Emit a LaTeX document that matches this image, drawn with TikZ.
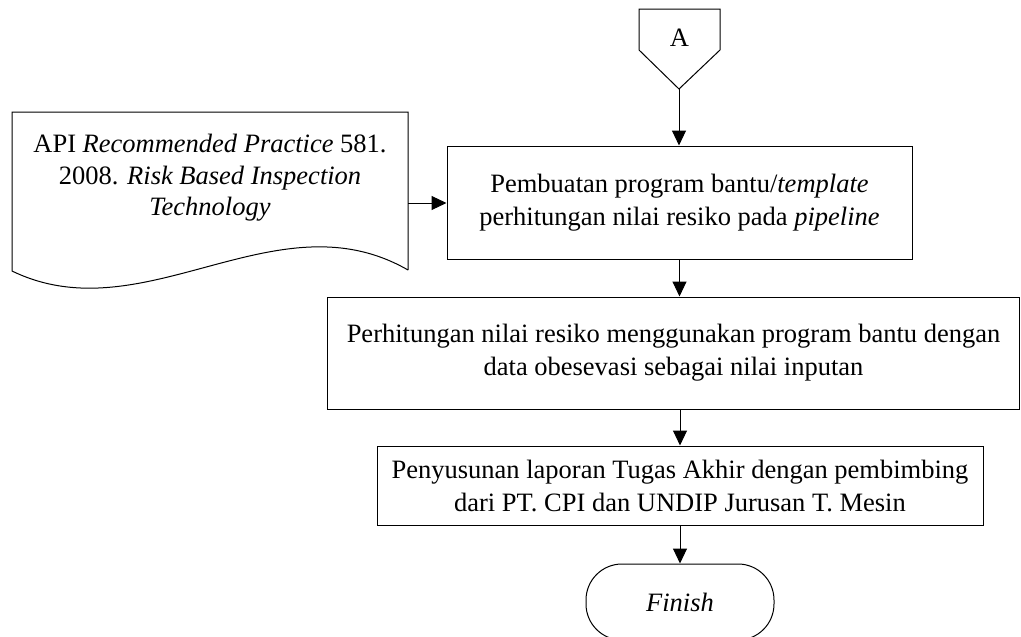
\documentclass[tikz,border=0pt]{standalone}
\usepackage{fontspec}
\setmainfont{Liberation Serif}
\usetikzlibrary{arrows.meta}
\begin{document}
\begin{tikzpicture}[x=1pt,y=-1pt,
  txt/.style={font=\fontsize{26.5}{33}\selectfont, align=center, inner sep=0pt},
  proc/.style={txt, draw, line width=1pt},
  shapeline/.style={draw, line width=1pt, line join=miter},
  conn/.style={draw, line width=1pt, -{Triangle[length=15pt,width=14pt]}},
]
\useasboundingbox (0,0) rectangle (1021,637);
% off-page connector A
\draw[shapeline] (639,9) -- (720,9) -- (720,50) -- (679,89) -- (639,50) -- cycle;
\node[txt] (A) at (679.5,38) {A};
\coordinate (Atip) at (679,89);
% document shape
\draw[shapeline] (408,270) -- (408,112) -- (12,112) -- (12,271)
  .. controls (144,335) and (276,194) .. (408,270);
\node[txt, font=\fontsize{26.5}{31.5}\selectfont] (doc) at (210,178)
  {API \textit{Recommended Practice} 581.\\2008. \textit{Risk Based Inspection}\\\textit{Technology}};
\coordinate (docR) at (408,203);
% process boxes
\node[proc, minimum width=465pt, minimum height=113pt] (b1) at (679.5,202.5)
  {Pembuatan program bantu/\textit{template}\\perhitungan nilai resiko pada \textit{pipeline}};
\node[proc, minimum width=692pt, minimum height=112pt] (b2) at (673.5,353)
  {Perhitungan nilai resiko menggunakan program bantu dengan\\data obesevasi sebagai nilai inputan};
\node[proc, minimum width=606pt, minimum height=79pt] (b3) at (680,485.5)
  {Penyusunan laporan Tugas Akhir dengan pembimbing\\dari PT. CPI dan UNDIP Jurusan T. Mesin};
% terminator
\node[proc, minimum width=188pt, minimum height=76pt, rounded corners=36pt] (fin) at (680,602)
  {\textit{Finish}};
% connectors
\draw[conn] (Atip) -- (Atip |- b1.north);
\draw[conn] (docR) -- (docR -| b1.west);
\draw[conn] (b1.south) -- (b1.south |- b2.north);
\draw[conn] (b3.north |- b2.south) -- (b3.north);
\draw[conn] (b3.south) -- (fin.north);
\end{tikzpicture}
\end{document}
